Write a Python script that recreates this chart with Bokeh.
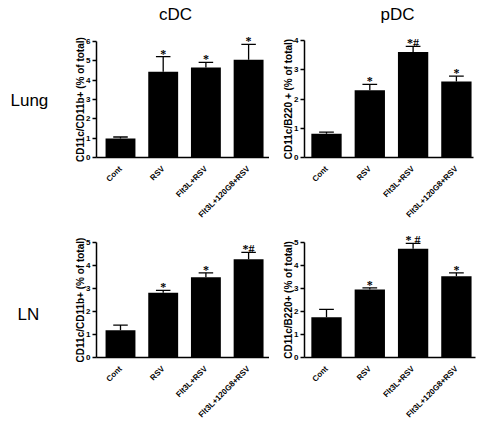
import math
from bokeh.plotting import figure
from bokeh.layouts import column, row
from bokeh.models import Range1d, FixedTicker, Label, LabelSet, ColumnDataSource
from bokeh.embed import file_html
from bokeh.resources import INLINE

categories = ["Cont", "RSV", "Flt3L+RSV", "Flt3L+120G8+RSV"]

lung_cdc = [0.98, 4.44, 4.66, 5.05]
lung_cdc_err = [0.08, 0.78, 0.26, 0.8]
lung_cdc_sig = ["", "*", "*", "*"]

lung_pdc = [0.81, 2.3, 3.61, 2.6]
lung_pdc_err = [0.06, 0.2, 0.19, 0.18]
lung_pdc_sig = ["", "*", "*#", "*"]

ln_cdc = [1.19, 2.82, 3.49, 4.27]
ln_cdc_err = [0.22, 0.1, 0.19, 0.3]
ln_cdc_sig = ["", "*", "*", "*#"]

ln_pdc = [1.75, 2.96, 4.73, 3.53]
ln_pdc_err = [0.34, 0.07, 0.23, 0.15]
ln_pdc_sig = ["", "*", "* #", "*"]

FONT = "Liberation Sans"


def panel(vals, errs, sigs, ylab, ymax, w, h, axis_px, zero_px, top_px, first_px, step_px, xend_px):
    # frame covers the whole canvas; axes sit at fixed locations inside it
    ppy = (zero_px - top_px) / ymax
    x_start = -first_px / step_px
    x_end = (w - first_px) / step_px
    y_end = zero_px / ppy
    y_start = -(h - zero_px) / ppy
    ax_x = (axis_px - first_px) / step_px
    ax_end = (xend_px - first_px) / step_px

    p = figure(width=w, height=h, x_range=Range1d(x_start, x_end), y_range=Range1d(y_start, y_end),
               output_backend="svg", toolbar_location=None, min_border=0,
               min_border_left=0, min_border_right=0, min_border_top=0, min_border_bottom=0)
    xs = list(range(len(categories)))
    hi = [v + e for v, e in zip(vals, errs)]
    src = ColumnDataSource(dict(x=xs, top=vals, hi=hi, sig=sigs,
                                xl=[i - 0.17 for i in xs], xr=[i + 0.17 for i in xs]))
    p.segment(x0="x", y0="top", x1="x", y1="hi", source=src, line_color="black", line_width=1.3)
    p.segment(x0="xl", y0="hi", x1="xr", y1="hi", source=src, line_color="black", line_width=1.3)
    p.vbar(x="x", top="top", width=0.7, source=src, fill_color="black", line_color=None)
    p.add_layout(LabelSet(x="x", y="hi", text="sig", source=src, text_align="center",
                          text_baseline="alphabetic", text_font=FONT, text_font_size="12px",
                          text_font_style="bold", text_color="black", y_offset=-1))
    p.grid.visible = False
    p.outline_line_color = None

    p.xaxis.fixed_location = 0
    p.xaxis.bounds = (ax_x, ax_end)
    p.xaxis.ticker = FixedTicker(ticks=xs)
    p.xaxis.major_label_overrides = {i: c for i, c in enumerate(categories)}
    p.xaxis.major_tick_line_color = None
    p.xaxis.minor_tick_line_color = None
    p.xaxis.major_label_orientation = math.pi / 4
    p.xaxis.major_label_standoff = 4
    p.xaxis.major_label_text_font = FONT
    p.xaxis.major_label_text_font_size = "8px"
    p.xaxis.major_label_text_font_style = "bold"
    p.xaxis.major_label_text_color = "black"
    p.xaxis.axis_line_width = 1.5
    p.xaxis.axis_line_color = "black"

    p.yaxis.fixed_location = ax_x
    p.yaxis.bounds = (0, ymax)
    p.yaxis.ticker = FixedTicker(ticks=list(range(ymax + 1)))
    p.yaxis.minor_tick_line_color = None
    p.yaxis.major_tick_out = 4
    p.yaxis.major_tick_in = 0
    p.yaxis.major_tick_line_width = 1.3
    p.yaxis.major_tick_line_color = "black"
    p.yaxis.axis_line_width = 1.5
    p.yaxis.axis_line_color = "black"
    p.yaxis.major_label_standoff = 2
    p.yaxis.major_label_text_font = FONT
    p.yaxis.major_label_text_font_size = "8px"
    p.yaxis.major_label_text_font_style = "bold"
    p.yaxis.major_label_text_color = "black"
    p.yaxis.axis_label = ylab
    p.yaxis.axis_label_standoff = -3
    p.yaxis.axis_label_text_font = FONT
    p.yaxis.axis_label_text_font_size = "10px"
    p.yaxis.axis_label_text_font_style = "bold"
    p.yaxis.axis_label_text_color = "black"
    return p


def screen_label(p, text, x, y, align):
    # x, y: position inside the canvas, measured from its top-left corner
    p.add_layout(Label(x=x, y=p.height - y, x_units="screen", y_units="screen", text=text,
                       text_align=align, text_baseline="alphabetic", text_color="black",
                       text_font=FONT, text_font_size="17px"))


TOP_H = 222
BOT_H = 421 - TOP_H

tl = panel(lung_cdc, lung_cdc_err, lung_cdc_sig, "CD11c/CD11b+ (% of total)", 6,
           269, TOP_H, 96, 157, 41, 120, 42.7, 269)
tr = panel(lung_pdc, lung_pdc_err, lung_pdc_sig, "CD11c/B220 + (% of total)", 4,
           209, TOP_H, 35, 157, 40, 57, 43.3, 204)
bl = panel(ln_cdc, ln_cdc_err, ln_cdc_sig, "CD11c/CD11b+ (% of total)", 5,
           269, BOT_H, 96, 357 - TOP_H, 242 - TOP_H, 120, 42.7, 269)
br = panel(ln_pdc, ln_pdc_err, ln_pdc_sig, "CD11c/B220+ (% of total)", 5,
           209, BOT_H, 35, 357 - TOP_H, 242 - TOP_H, 57, 43.3, 206)

screen_label(tl, "cDC", 175, 14, "center")
screen_label(tr, "pDC", 128, 14, "center")
screen_label(tl, "Lung", 10, 100, "left")
screen_label(bl, "LN", 17, 314 - TOP_H, "left")

layout = column(row(tl, tr), row(bl, br))

open("out.html", "w").write(file_html(layout, INLINE))
